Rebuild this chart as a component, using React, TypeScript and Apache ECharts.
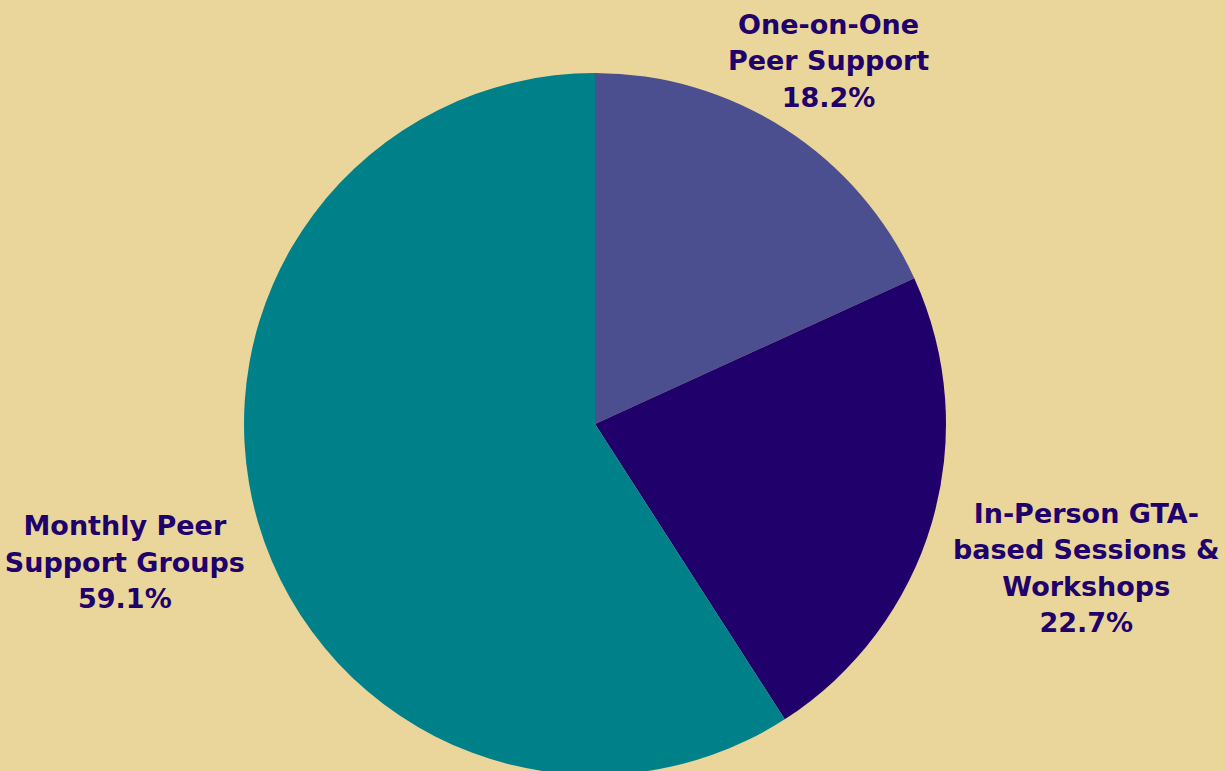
import React, { useEffect, useRef } from "react";
import * as echarts from "echarts";

const categories = [
  "One-on-One\nPeer Support",
  "In-Person GTA-\nbased Sessions &\nWorkshops",
  "Monthly Peer\nSupport Groups",
];
const values = [4, 5, 13];
const sliceColors = ["#4b4f8f", "#20006b", "#00818a"];
// label distance from pie centre (as a radius in px) for each slice
const labelRadii = [429, 509, 487];

export default function App() {
  const ref = useRef<HTMLDivElement>(null);
  useEffect(() => {
    if (!ref.current) return;
    const chart = echarts.init(ref.current, undefined, { renderer: "svg" });
    const total = values.reduce((a, b) => a + b, 0);
    const center = [595, 424];
    const mainData = categories.map((name, i) => ({
      name,
      value: values[i],
      itemStyle: { color: sliceColors[i] },
    }));
    const labelSeries = labelRadii.map((r, k) => ({
      type: "pie" as const,
      silent: true,
      center,
      radius: [0, r * 2],
      startAngle: 90,
      clockwise: true,
      z: 5,
      data: categories.map((name, i) => ({
        name,
        value: values[i],
        itemStyle: { color: "rgba(0,0,0,0)" },
        label: { show: i === k },
      })),
      label: {
        show: true,
        position: "inside" as const,
        rotate: 0,
        formatter: (p: any) =>
          `${p.name}\n${((p.value / total) * 100).toFixed(1)}%`,
        color: "#20006b",
        fontFamily: "DejaVu Sans",
        fontWeight: "bold",
        fontSize: 27,
        lineHeight: 36.5,
        align: "center",
      },
      labelLine: { show: false },
    }));
    chart.setOption({
      animation: false,
      backgroundColor: "#ead69b",
      series: [
        {
          type: "pie",
          center,
          radius: 351,
          startAngle: 90,
          clockwise: true,
          data: mainData,
          label: { show: false },
          labelLine: { show: false },
          itemStyle: { borderWidth: 0 },
        },
        ...labelSeries,
      ],
    });
    return () => chart.dispose();
  }, []);
  return (
    <div
      ref={ref}
      style={{ position: "fixed", left: 0, top: 0, width: 1225, height: 771 }}
    />
  );
}
